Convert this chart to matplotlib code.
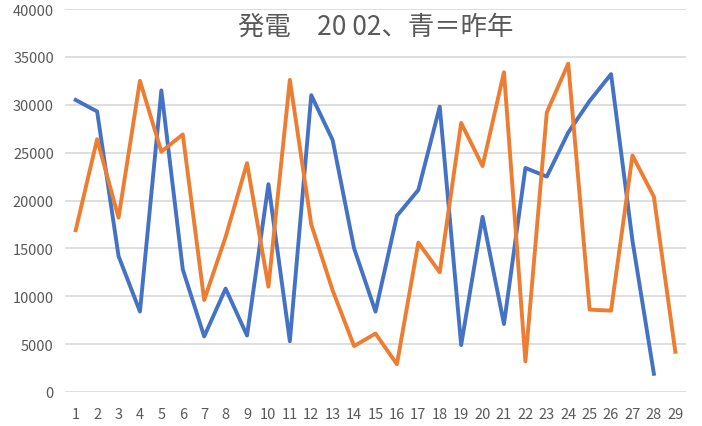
import matplotlib
matplotlib.use('Agg')
from matplotlib import pyplot as plt
import numpy as np

plt.rcParams['font.family'] = ['Noto Sans CJK JP', 'DejaVu Sans']

# days of the month
days = list(range(1, 30))

# this year (orange) and last year (blue)
this_year = [16900, 26400, 18200, 32500, 25100, 26900, 9600, 16200, 23900, 11000,
             32600, 17500, 10600, 4800, 6100, 2900, 15600, 12500, 28100, 23600,
             33400, 3200, 29200, 34300, 8600, 8500, 24700, 20400, 4200]
last_year = [30500, 29300, 14200, 8400, 31500, 12800, 5800, 10800, 5900, 21700,
             5300, 31000, 26300, 15000, 8400, 18400, 21100, 29800, 4900, 18300,
             7100, 23400, 22500, 27100, 30400, 33200, 15800, 1900]

title = '発電　20 02、青＝昨年'

fig = plt.figure(figsize=(7.02, 4.27), dpi=100)
ax = fig.add_axes([65 / 702, 1 - 393 / 427, 621 / 702, 383 / 427])

ax.plot(days[:len(last_year)], last_year, color='#4472C4', linewidth=2.8, solid_joinstyle='round')
ax.plot(days, this_year, color='#ED7D31', linewidth=2.8, solid_joinstyle='round')

ax.set_xlim(0.5, 29.5)
ax.set_ylim(0, 40000)
ax.set_yticks(np.arange(0, 40001, 5000))
ax.set_xticks(days)
ax.grid(axis='y', color='#D9D9D9', linewidth=1.2)
ax.set_axisbelow(True)
for s in ax.spines.values():
    s.set_visible(False)
ax.tick_params(axis='both', length=0, labelsize=10.5, labelcolor='#595959')
ax.tick_params(axis='y', pad=8)
ax.tick_params(axis='x', pad=11)

fig.text((65 + 686) / 2 / 702, 1 - 27 / 427, title, ha='center', va='center',
         fontsize=19, color='#595959')

fig.savefig('out.png', dpi=100)
